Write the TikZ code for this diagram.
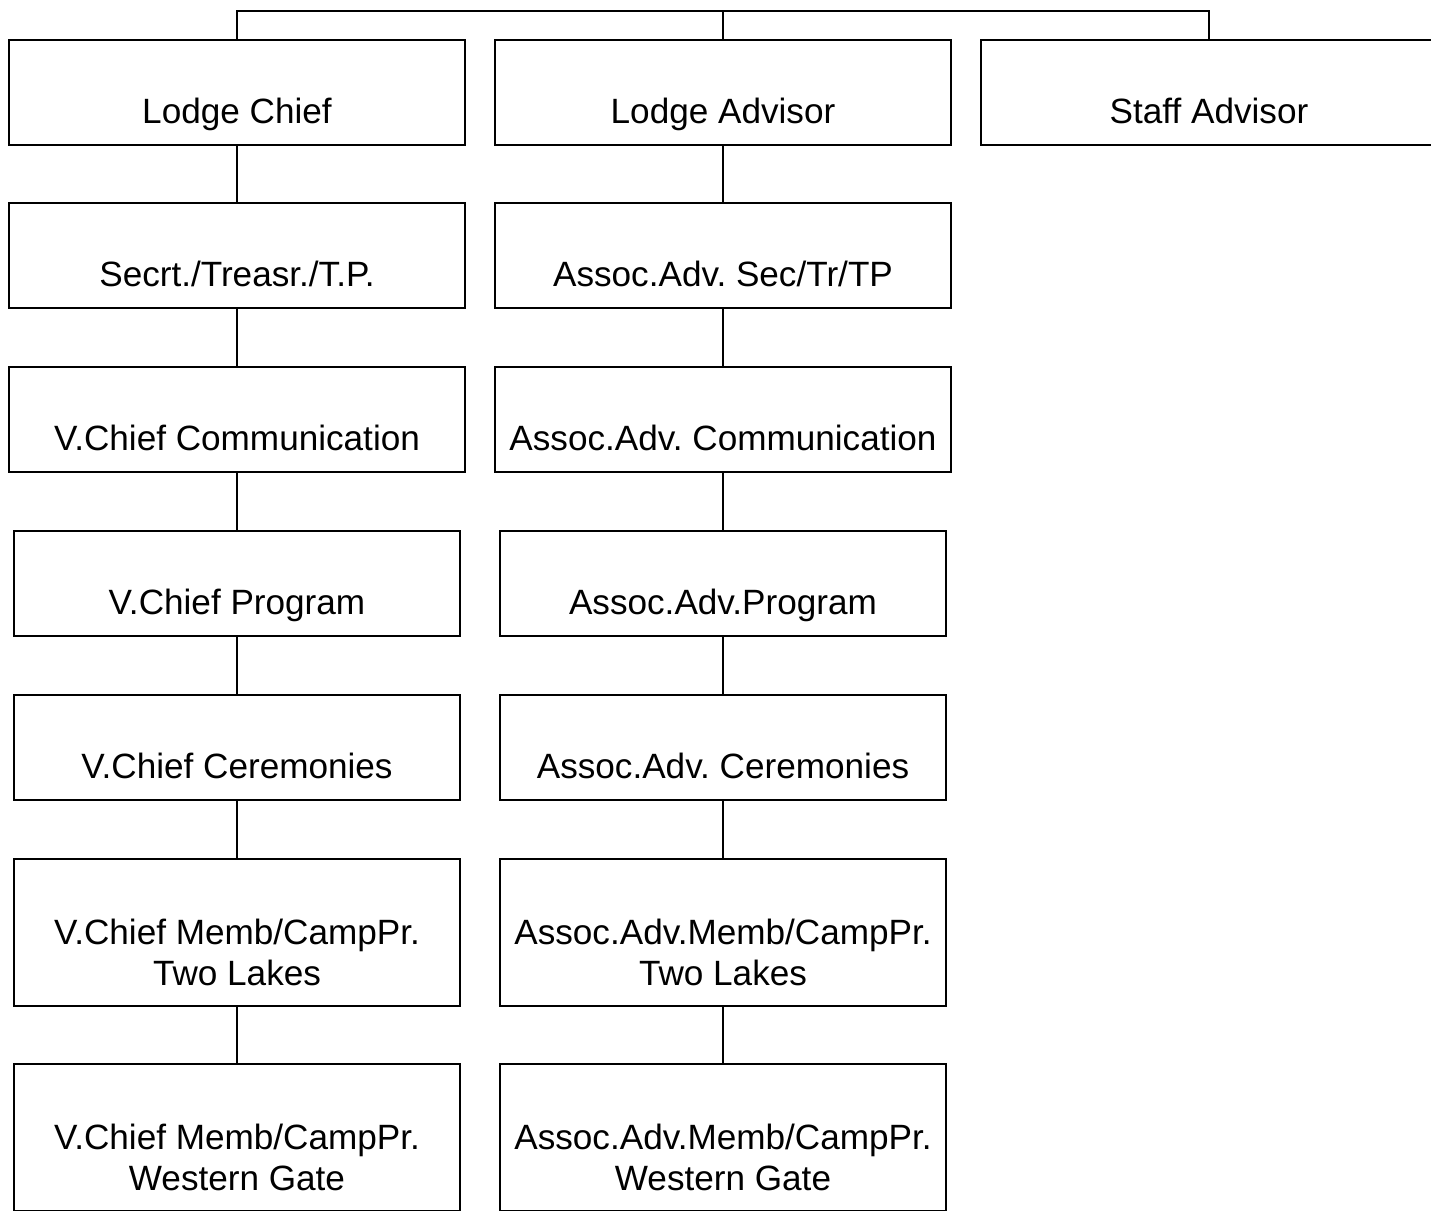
\documentclass[tikz,border=0pt]{standalone}
\usepackage{fontspec}
\setmainfont{Liberation Sans}
\frenchspacing
\usetikzlibrary{positioning}
\tikzset{
  orgbox/.style={draw,line width=1.1pt,inner sep=0pt,outer sep=0pt,anchor=north,
    minimum width=9.12cm,align=center,font=\fontsize{20}{23.8}\selectfont,
    text height=1.68cm,text depth=0.42cm},
  narrowbox/.style={orgbox,minimum width=8.94cm},
  tallbox/.style={narrowbox,text height=2.54cm,text depth=0.40cm},
  link/.style={line width=1.1pt}
}

\begin{document}
\begin{tikzpicture}[x=0.02cm,y=-0.02cm]
    \useasboundingbox (0,0) rectangle (1431,1211);

    % top row
    \node[orgbox] (chief) at (237,40) {Lodge Chief};
    \node[orgbox] (advisor) at (723,40) {Lodge Advisor};
    \node[orgbox] (staff) at (1209,40) {Staff Advisor};

    % chief column
    \node[orgbox] (sec) at (237,203) {Secrt./Treasr./T.P.};
    \node[orgbox] (vcom) at (237,367) {V.Chief Communication};
    \node[narrowbox] (vprog) at (237,531) {V.Chief Program};
    \node[narrowbox] (vcer) at (237,695) {V.Chief Ceremonies};
    \node[tallbox] (vtwo) at (237,859) {V.Chief Memb/CampPr.\\Two Lakes};
    \node[tallbox] (vwest) at (237,1064) {V.Chief Memb/CampPr.\\Western Gate};

    % advisor column
    \node[orgbox] (asec) at (723,203) {Assoc.Adv. Sec/Tr/TP};
    \node[orgbox] (acom) at (723,367) {Assoc.Adv. Communication};
    \node[narrowbox] (aprog) at (723,531) {Assoc.Adv.Program};
    \node[narrowbox] (acer) at (723,695) {Assoc.Adv. Ceremonies};
    \node[tallbox] (atwo) at (723,859) {Assoc.Adv.Memb/CampPr.\\Two Lakes};
    \node[tallbox] (awest) at (723,1064) {Assoc.Adv.Memb/CampPr.\\Western Gate};

    % connectors
    \draw[link] (chief.north) -- ++(0,-29) -| (staff.north);
    \draw[link] (advisor.north) -- ++(0,-29);
    \foreach \a/\b in {chief/sec,sec/vcom,vcom/vprog,vprog/vcer,vcer/vtwo,vtwo/vwest,
        advisor/asec,asec/acom,acom/aprog,aprog/acer,acer/atwo,atwo/awest}
      \draw[link] (\a.south) -- (\a.south |- \b.north);
\end{tikzpicture}
\end{document}
